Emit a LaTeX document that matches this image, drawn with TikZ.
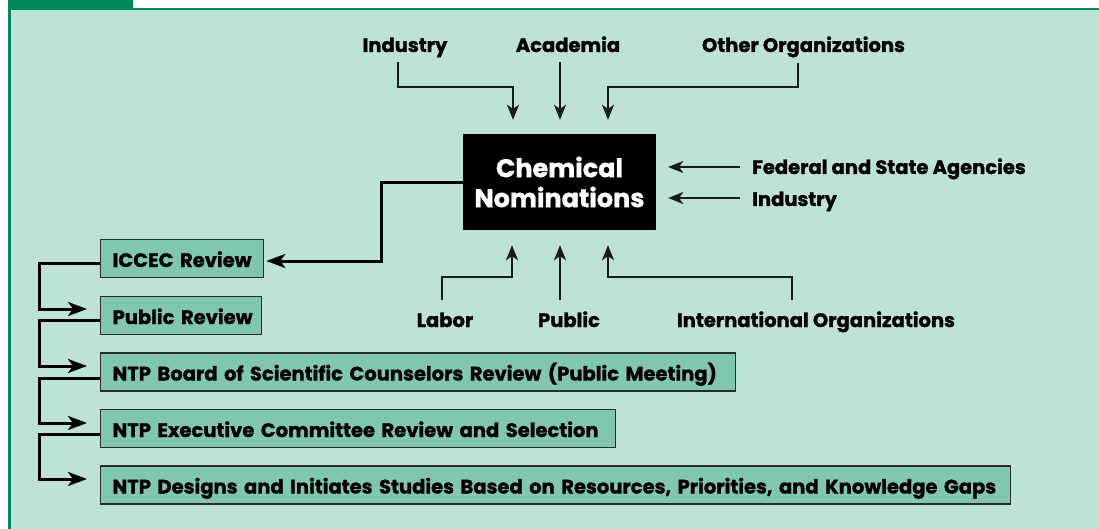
\documentclass[tikz,border=0pt]{standalone}
\usepackage{fontspec}
\setmainfont{Poppins}[BoldFeatures={FakeBold=1.2}]
\usetikzlibrary{arrows.meta,calc}
\definecolor{mint}{HTML}{BEE2D6}
\definecolor{framegreen}{HTML}{00875A}
\definecolor{stagefill}{HTML}{80C7AE}
\definecolor{stageline}{HTML}{2B2B2B}
\definecolor{feedline}{HTML}{1A1A1A}
\begin{document}
\begin{tikzpicture}[x=1pt,y=-1pt,
  lbl/.style={font=\fontsize{19.5}{23}\selectfont\bfseries, inner sep=0pt},
  hub/.style={fill=black, text=white, minimum width=193pt, minimum height=96pt,
    inner sep=0pt, align=center, font=\fontsize{25.5}{30}\selectfont\bfseries},
  stage/.style={draw=stageline, line width=1.3pt, fill=stagefill, anchor=west,
    minimum height=38pt, inner xsep=12pt, inner ysep=0pt, text height=17pt,
    text depth=0pt, align=left, font=\fontsize{19.5}{23}\selectfont\bfseries},
  feed/.style={draw=feedline, line width=1.6pt,
    -{Stealth[length=15pt,width=12pt,inset=4pt]}},
  flow/.style={draw=black, line width=3pt,
    -{Stealth[length=19pt,width=14pt,inset=5pt]}},
]
% page, title tab and panel
\useasboundingbox (0,0) rectangle (1099,529);
\fill[white] (0,0) rectangle (1099,529);
\fill[mint] (9.5,9) rectangle (1099,529);
\fill[framegreen] (8,0) rectangle (133,8.5);
\draw[framegreen, line width=2.5pt] (9.5,529) -- (9.5,9) -- (1099,9);

% central box
\node[hub] (chem) at (559.5,182) {Chemical\\Nominations};

% sources
\node[lbl, anchor=base] (srcInd) at (405,52) {Industry};
\node[lbl, anchor=base] (srcAca) at (568,52) {Academia};
\node[lbl, anchor=base] (srcOth) at (803.5,52) {Other Organizations};
\node[lbl, anchor=base west] (srcFed) at (752,174) {Federal and State Agencies};
\node[lbl, anchor=base west] (srcIndR) at (752,206) {Industry};
\node[lbl, anchor=base] (srcLab) at (445,327) {Labor};
\node[lbl, anchor=base] (srcPub) at (569,327) {Public};
\node[lbl, anchor=base] (srcInt) at (816,327) {International Organizations};

% review stages
\node[stage, text width=139pt] (iccec) at (100,258.5) {\mbox{ICCEC Review}};
\node[stage, text width=137pt] (pubrev) at (100,315.5) {\mbox{Public Review}};
\node[stage, text width=611pt] (board) at (100,372) {\mbox{NTP Board of Scientific Counselors Review (Public Meeting)}};
\node[stage, text width=491pt] (exec) at (100,428.5) {\mbox{NTP Executive Committee Review and Selection}};
\node[stage, text width=886pt] (designs) at (100,485) {\mbox{NTP Designs and Initiates Studies Based on Resources, Priorities, and Knowledge Gaps}};

% nominations flowing in
\draw[feed] ($(srcInd.base)+(-7,10)$) |- ($(chem.north)+(-46.5,-47)$) -- ($(chem.north)+(-46.5,-14)$);
\draw[feed] ($(srcAca.base)+(-8,10)$) -- ($(chem.north)+(0.5,-14)$);
\draw[feed] ($(srcOth.base)+(-5.5,11)$) |- ($(chem.north)+(48.5,-47)$) -- ($(chem.north)+(48.5,-14)$);
\draw[feed] ($(srcFed.base west)+(-12,-7)$) -- ($(chem.east)+(12,-15)$);
\draw[feed] ($(srcIndR.base west)+(-12,-8)$) -- ($(chem.east)+(12,16)$);
\draw[feed] ($(srcLab.base)+(-3,-27)$) |- ($(chem.south)+(-47.5,47)$) -- ($(chem.south)+(-47.5,15)$);
\draw[feed] ($(srcPub.base)+(-9,-27)$) -- ($(chem.south)+(0.5,15)$);
\draw[feed] ($(srcInt.base)+(-24,-27)$) |- ($(chem.south)+(48.5,47)$) -- ($(chem.south)+(48.5,15)$);

% review sequence
\draw[flow] ($(chem.west)+(0,1)$) -- ++(-81,0) |- ($(iccec.east)+(2,2.5)$);
\draw[flow] ($(iccec.west)+(0,4.5)$) -- ++(-61,0) |- ($(pubrev.west)+(-13,-6.5)$);
\draw[flow] ($(pubrev.west)+(0,4.5)$) -- ++(-61,0) |- ($(board.west)+(-13,-6)$);
\draw[flow] ($(board.west)+(0,6)$) -- ++(-61,0) |- ($(exec.west)+(-13,-5.5)$);
\draw[flow] ($(exec.west)+(0,5.5)$) -- ++(-61,0) |- ($(designs.west)+(-13,-6)$);
\end{tikzpicture}
\end{document}
